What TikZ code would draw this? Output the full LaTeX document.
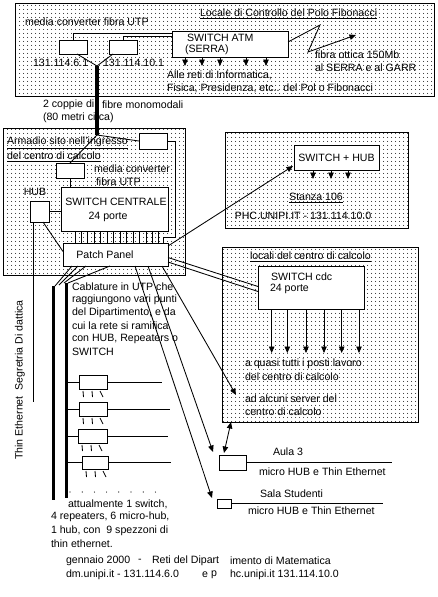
\documentclass[tikz,border=0pt]{standalone}
\usepackage{fontspec}
\setmainfont{Liberation Sans}
\usetikzlibrary{patterns.meta,arrows.meta,calc}
\begin{document}
\begin{tikzpicture}[x=1pt,y=-1pt,
  every node/.style={font=\fontsize{10.6}{12}\selectfont, inner sep=0pt, outer sep=0pt},
  ln/.style={line width=0.85pt},
  area/.style={draw, line width=1pt, pattern={Dots[distance=4pt,radius=0.6pt]}, pattern color=black, anchor=north west},
  box/.style={draw, line width=1pt, fill=white, anchor=north west},
  lbl/.style={anchor=west},
  arr/.style={-{Triangle[length=6.5pt,width=5.5pt]}},
  arrb/.style={{Triangle[length=6.5pt,width=5.5pt]}-{Triangle[length=6.5pt,width=5.5pt]}}
]
\fill[white] (0,0) rectangle (438,597);
\useasboundingbox (0,0) rectangle (438,597);

% ---------- areas ----------
\node[area, minimum width=419pt, minimum height=93pt] (topa) at (15,3) {};
\node[area, minimum width=182pt, minimum height=147pt] (mida) at (3,128) {};
\node[area, minimum width=183pt, minimum height=96pt] (sta) at (225,132) {};
\node[area, minimum width=196pt, minimum height=175pt] (loc) at (222,247) {};

% ---------- top area ----------
\node[lbl] (ttl) at (200,14) {\underline{Locale di Controllo del Polo Fibonacci}};
\node[lbl] (mclbl) at (25,22) {media converter fibra UTP};
\node[box, minimum width=28pt, minimum height=14pt] (mc1) at (59,40) {};
\node[box, minimum width=28pt, minimum height=14pt] (mc2) at (109,40) {};
\node[box, minimum width=116pt, minimum height=26pt] (atm) at (172,31) {};
\node[lbl] (atm1) at (187,38) {SWITCH ATM};
\node[lbl] (atm2) at (185,50) {(SERRA)};
\draw[ln] (mc1.north) |- ($(atm.north west)+(0,2)$);
\draw[ln] (mc2.north) |- ($(atm.north west)+(0,5)$);
\node[lbl] (ip1) at (33,63) {131.114.6.1};
\node[lbl] (ip2) at (103,63) {131.114.10.1};
\coordinate (j1) at (97,66);
\draw[ln] ($(mc1.south)+(4,0)$) -- (j1);
\draw[ln] ($(mc2.south west)+(4,0)$) -- (j1);
\foreach \o in {13,30,48,74,94} \draw[ln,arr] ($(atm.south west)+(\o,0)$) -- ++(0,9);
\node[lbl] (alle1) at (167,75) {Alle reti di Informatica,};
\node[lbl] (alle2) at (167,88) {Fisica, Presidenza, etc.. del Pol o Fibonacci};
\coordinate (z1) at (320,25);
\coordinate (z2) at (308,52);
\coordinate (z3) at (356,35);
\draw[ln,arr] ($(atm.east)+(0,-2)$) -- (z1) -- (z2) -- (z3);
\node[lbl] (fib1) at (315,55) {fibra ottica 150Mb};
\node[lbl] (fib2) at (315,68) {al SERRA e al GARR};

% ---------- fibre ----------
\node[lbl] (cop1) at (43,105) {2 coppie di};
\node[lbl] (cop2) at (102,105) {fibre monomodali};
\node[lbl] (cop3) at (43,118) {(80 metri circa)};
\coordinate (j2) at (97,135);
\draw[line width=4pt] (j1) -- (j2);

% ---------- armadio ----------
\node[lbl] (arm1) at (7,143) {\underline{Armadio sito nell'ingresso}};
\node[lbl] (arm2) at (7,157) {\underline{del centro di calcolo}};
\node[box, minimum width=28pt, minimum height=16pt] (mc3) at (139,133) {};
\node[box, minimum width=28pt, minimum height=15pt] (mc4) at (56,163) {};
\draw[ln] (j2) -- (mc3.west);
\draw[ln] (j2) -- (mc4.north);
\node[lbl] (mcl1) at (94,169) {media converter};
\node[lbl] (mcl2) at (96,182) {fibra UTP};
\node[box, minimum width=107pt, minimum height=44pt] (sw) at (61,187) {};
\node (sw1) at (116,202) {SWITCH CENTRALE};
\node (sw2) at (108,217) {24 porte};
\draw[ln] (mc4.south) -- (mc4.south |- sw.north);
\node[box, minimum width=19pt, minimum height=21pt] (hub) at (30,201) {};
\node (hubl) at (35,192) {HUB};
\draw[ln] (hub.east) -- (hub.east -| sw.west);
\node[box, minimum width=105pt, minimum height=23pt] (pp) at (63,243) {};
\node (ppl) at (105,255) {Patch Panel};
\foreach \i in {0,...,13} \draw[ln] ($(sw.south west)+({14+6.45*\i},0)$) -- ++(0,12);
\draw[ln] (mc3.east) -| ($(pp.north east)+(7,-6)$) -| ($(pp.north east)+(-5,0)$);
\coordinate (hubend) at (33,402);
\draw[ln] (hub.south west -| hubend) -- (hubend);
\draw[ln] ($(hub.south west)+(13,0)$) -- ($(pp.west)+(0,-3)$);
\node[rotate=90] (thin) at (20,380) {Thin Ethernet\ \ Segretria Di dattica};

% ---------- stanza 106 ----------
\node[box, minimum width=85pt, minimum height=25pt] (shub) at (294,145) {SWITCH + HUB};
\foreach \o in {19,37,54} \draw[ln,arr] ($(shub.south west)+(\o,0)$) -- ++(0,9);
\node (st) at (316,198) {\underline{Stanza 106}};
\node (phc) at (303,216) {PHC.UNIPI.IT - 131.114.10.0};
\draw[ln,arr] ($(pp.north east)+(0,3)$) -- ($(shub.south west)+(-1,-4)$);

% ---------- locali ----------
\node[lbl] (loct) at (250,257) {\underline{locali del centro di calcolo}};
\node[box, minimum width=106pt, minimum height=43pt] (cdc) at (258,266) {};
\node[lbl] (cdc1) at (271,277) {SWITCH cdc};
\node[lbl] (cdc2) at (270,289) {24 porte};
\foreach \o in {13.7,29.3,48,66,83.7,101} \draw[ln,arr] ($(cdc.south west)+(\o,0)$) -- ++(0,44);
\node[lbl] (q1) at (245,364) {a quasi tutti i posti lavoro};
\node[lbl] (q2) at (245,377) {del centro di calcolo};
\node[lbl] (s1) at (245,399) {ad alcuni server del};
\node[lbl] (s2) at (245,412) {centro di calcolo};
\draw[ln] ($(pp.east)+(0,3)$) -- ($(cdc.west)+(0,-1)$);
\draw[ln] ($(pp.east)+(0,7.5)$) -- ($(cdc.west)+(0,4)$);

% ---------- aula / sala ----------
\node[box, minimum width=27pt, minimum height=15pt] (aula) at (219,455) {};
\draw[ln] (aula.east) -- ++(146,0);
\node[lbl] (aulal) at (273,452) {Aula 3};
\node[lbl] (aulam) at (259,472) {micro HUB e Thin Ethernet};
\node[box, minimum width=14pt, minimum height=9pt] (sala) at (217,499) {};
\draw[ln] (sala.east) -- ++(152,0);
\node[lbl] (salal) at (260,494) {Sala Studenti};
\node[lbl] (salam) at (248,511) {micro HUB e Thin Ethernet};
\coordinate (srv) at (236,395);
\draw[ln,arr] ($(pp.south east)+(-6,0)$) -- (srv);
\draw[ln,arr] ($(pp.south east)+(-20,0)$) -- ($(aula.north west)+(-6,-3)$);
\draw[ln,arr] ($(pp.south east)+(-33,0)$) -- ($(sala.north west)+(-5,-1)$);
\draw[ln,arrb] ($(loc.south west)+(9,0)$) -- ($(aula.north west)+(5,-2)$);

% ---------- cablature ----------
\coordinate (t1) at (53,286);
\coordinate (b1) at (53,500);
\coordinate (t2) at (66,283);
\coordinate (b2) at (66,498);
\draw[line width=3pt] (t1) -- (b1);
\draw[line width=3pt] (t2) -- (b2);
\draw[ln] ($(pp.south west)+(9,0)$) -- ($(t1)+(2,0)$);
\draw[ln] ($(pp.south west)+(15,0)$) -- ($(t1)+(6,-1)$);
\draw[ln] ($(pp.south west)+(23,0)$) -- ($(t2)+(-2,0)$);
\draw[ln] ($(pp.south west)+(47,0)$) -- ($(t2)+(2,0)$);
\node[lbl] (c1) at (72,287) {Cablature in UTP che};
\node[lbl] (c2) at (72,300) {raggiungono vari punti};
\node[lbl] (c3) at (72,313) {del Dipartimento, e da};
\node[lbl] (c4) at (72,326) {cui la rete si ramifica};
\node[lbl] (c5) at (72,339) {con HUB, Repeaters o};
\node[lbl] (c6) at (72,352) {SWITCH};
\foreach \n/\bx/\by/\bw/\bh/\re in {1/79/375/28/14/162, 2/79/402/28/14/170, 3/78/429/29/14/168, 4/82/456/26/13/171} {
  \node[box, minimum width=\bw*1pt, minimum height=\bh*1pt] (r\n) at (\bx,\by) {};
  \coordinate (re\n) at (\re,\by);
  \draw[ln] (r\n.west -| t2) -- (r\n.west);
  \draw[ln] (r\n.east) -- (r\n.east -| re\n);
  \draw[ln] ($(r\n.south west)+(4,2)$) -- ++(0.5,6);
  \draw[ln] ($(r\n.south west)+(13,2)$) -- ++(0.5,6);
  \draw[ln] ($(r\n.south west)+(21,2)$) -- ++(3,6);
}
\foreach \i in {0,...,7} \fill ({70+12.2*\i},492) circle (0.6pt);
\node[lbl] (a1) at (68,504) {attualmente 1 switch,};
\node[lbl] (a2) at (51,517) {4 repeaters, 6 micro-hub,};
\node[lbl] (a3) at (51,531) {1 hub, con\ \ 9 spezzoni di};
\node[lbl] (a4) at (51,544) {thin ethernet.};

% ---------- footer ----------
\node[lbl] (f1) at (66,561) {gennaio 2000};
\node[lbl] (f2) at (138,561) {-};
\node[lbl] (f3) at (152,561) {Reti del Dipart};
\node[lbl] (f4) at (230,561) {imento di Matematica};
\node[lbl] (g1) at (66,575) {dm.unipi.it - 131.114.6.0};
\node[lbl] (g2) at (202,575) {e};
\node[lbl] (g3) at (211,575) {p};
\node[lbl] (g4) at (230,575) {hc.unipi.it 131.114.10.0};
\end{tikzpicture}
\end{document}
